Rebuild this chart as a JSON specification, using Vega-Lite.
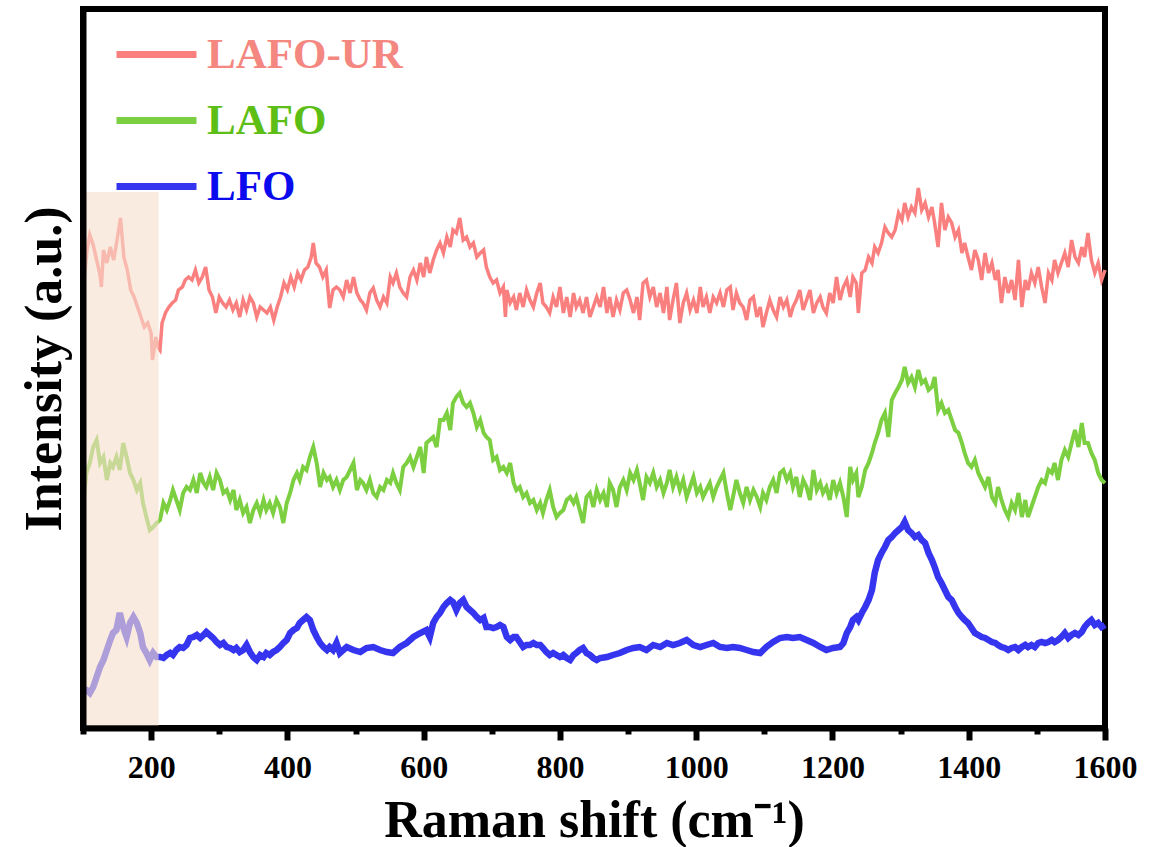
{
  "$schema": "https://vega.github.io/schema/vega-lite/v6.json",
  "width": 1022,
  "height": 719,
  "autosize": "none",
  "padding": {"left": 83, "top": 9, "right": 46, "bottom": 119},
  "background": "white",
  "config": {
    "view": {"stroke": "black", "strokeWidth": 6},
    "font": "Liberation Serif"
  },
  "datasets": {
    "ur": [
      {"x":100,"y":393},{"x":102,"y":451},{"x":106,"y":478},{"x":110,"y":493},{"x":115,"y":483},{"x":120,"y":468},{"x":125,"y":453},{"x":127,"y":441},{"x":130,"y":478},{"x":135,"y":465},{"x":140,"y":481},{"x":145,"y":468},{"x":150,"y":488},{"x":155,"y":510},{"x":160,"y":471},{"x":165,"y":458},{"x":170,"y":438},{"x":175,"y":431},{"x":180,"y":421},{"x":185,"y":411},{"x":190,"y":401},{"x":195,"y":405},{"x":200,"y":395},{"x":202,"y":368},{"x":207,"y":391},{"x":210,"y":381},{"x":213,"y":378},{"x":216,"y":405},{"x":221,"y":415},{"x":226,"y":421},{"x":231,"y":425},{"x":236,"y":428},{"x":240,"y":438},{"x":246,"y":441},{"x":250,"y":448},{"x":255,"y":451},{"x":260,"y":448},{"x":265,"y":458},{"x":270,"y":445},{"x":275,"y":451},{"x":280,"y":461},{"x":285,"y":438},{"x":290,"y":431},{"x":295,"y":415},{"x":300,"y":431},{"x":305,"y":425},{"x":310,"y":421},{"x":315,"y":428},{"x":320,"y":418},{"x":325,"y":425},{"x":330,"y":411},{"x":335,"y":428},{"x":340,"y":418},{"x":345,"y":431},{"x":350,"y":425},{"x":355,"y":411},{"x":360,"y":421},{"x":365,"y":418},{"x":370,"y":415},{"x":375,"y":421},{"x":380,"y":408},{"x":385,"y":421},{"x":390,"y":431},{"x":395,"y":445},{"x":400,"y":438},{"x":405,"y":451},{"x":410,"y":441},{"x":415,"y":455},{"x":420,"y":448},{"x":425,"y":458},{"x":430,"y":461},{"x":435,"y":471},{"x":438,"y":485},{"x":442,"y":465},{"x":447,"y":461},{"x":452,"y":451},{"x":457,"y":458},{"x":462,"y":420},{"x":467,"y":438},{"x":472,"y":441},
      {"x":477,"y":438},{"x":482,"y":431},{"x":487,"y":448},{"x":492,"y":435},{"x":497,"y":451},{"x":502,"y":435},{"x":507,"y":428},{"x":511,"y":425},{"x":516,"y":418},{"x":521,"y":435},{"x":526,"y":440},{"x":531,"y":428},{"x":536,"y":421},{"x":541,"y":431},{"x":546,"y":425},{"x":551,"y":451},{"x":555,"y":445},{"x":560,"y":455},{"x":565,"y":441},{"x":570,"y":435},{"x":575,"y":431},{"x":580,"y":451},{"x":585,"y":458},{"x":590,"y":448},{"x":595,"y":465},{"x":600,"y":451},{"x":604,"y":471},{"x":609,"y":455},{"x":614,"y":468},{"x":619,"y":478},{"x":624,"y":485},{"x":629,"y":475},{"x":634,"y":491},{"x":639,"y":481},{"x":643,"y":498},{"x":648,"y":495},{"x":653,"y":510},{"x":658,"y":488},{"x":663,"y":491},{"x":668,"y":481},{"x":673,"y":485},{"x":678,"y":471},{"x":683,"y":475},{"x":688,"y":478},{"x":692,"y":461},{"x":697,"y":451},{"x":702,"y":445},{"x":707,"y":448},{"x":712,"y":435},{"x":717,"y":441},{"x":720,"y":411},{"x":722,"y":438},{"x":727,"y":425},{"x":732,"y":431},{"x":736,"y":418},{"x":741,"y":435},{"x":746,"y":421},{"x":751,"y":438},{"x":756,"y":428},{"x":761,"y":421},{"x":766,"y":435},{"x":771,"y":445},{"x":775,"y":425},{"x":780,"y":421},{"x":785,"y":415},{"x":790,"y":431},{"x":795,"y":421},{"x":800,"y":441},{"x":805,"y":415},{"x":810,"y":431},{"x":815,"y":411},{"x":820,"y":435},{"x":824,"y":421},{"x":829,"y":428},{"x":834,"y":415},{"x":839,"y":431},{"x":844,"y":411},{"x":849,"y":421},{"x":854,"y":431},
      {"x":859,"y":421},{"x":864,"y":441},{"x":869,"y":415},{"x":873,"y":431},{"x":878,"y":411},{"x":883,"y":428},{"x":888,"y":418},{"x":893,"y":435},{"x":898,"y":438},{"x":903,"y":428},{"x":908,"y":415},{"x":913,"y":431},{"x":917,"y":408},{"x":922,"y":445},{"x":927,"y":448},{"x":932,"y":431},{"x":937,"y":441},{"x":942,"y":421},{"x":947,"y":435},{"x":952,"y":415},{"x":957,"y":441},{"x":961,"y":408},{"x":966,"y":428},{"x":971,"y":445},{"x":976,"y":405},{"x":981,"y":425},{"x":986,"y":435},{"x":991,"y":418},{"x":996,"y":428},{"x":1001,"y":415},{"x":1006,"y":441},{"x":1010,"y":421},{"x":1015,"y":431},{"x":1020,"y":415},{"x":1025,"y":431},{"x":1030,"y":425},{"x":1035,"y":435},{"x":1040,"y":421},{"x":1045,"y":438},{"x":1050,"y":441},{"x":1054,"y":418},{"x":1059,"y":435},{"x":1064,"y":425},{"x":1069,"y":421},{"x":1074,"y":408},{"x":1079,"y":428},{"x":1084,"y":431},{"x":1089,"y":411},{"x":1094,"y":421},{"x":1098,"y":401},{"x":1103,"y":415},{"x":1108,"y":428},{"x":1113,"y":418},{"x":1118,"y":411},{"x":1123,"y":431},{"x":1128,"y":421},{"x":1133,"y":428},{"x":1138,"y":411},{"x":1142,"y":421},{"x":1147,"y":428},{"x":1152,"y":438},{"x":1157,"y":418},{"x":1162,"y":428},{"x":1167,"y":438},{"x":1172,"y":415},{"x":1177,"y":425},{"x":1182,"y":431},{"x":1186,"y":421},{"x":1191,"y":415},{"x":1196,"y":435},{"x":1201,"y":425},{"x":1206,"y":451},{"x":1211,"y":428},{"x":1216,"y":441},{"x":1221,"y":448},{"x":1226,"y":431},{"x":1230,"y":451},{"x":1235,"y":445},
      {"x":1238,"y":415},{"x":1243,"y":455},{"x":1248,"y":458},{"x":1253,"y":471},{"x":1258,"y":465},{"x":1262,"y":481},{"x":1267,"y":475},{"x":1272,"y":485},{"x":1277,"y":501},{"x":1282,"y":495},{"x":1287,"y":491},{"x":1292,"y":498},{"x":1297,"y":515},{"x":1302,"y":508},{"x":1306,"y":525},{"x":1311,"y":511},{"x":1316,"y":521},{"x":1321,"y":515},{"x":1326,"y":540},{"x":1331,"y":518},{"x":1336,"y":525},{"x":1341,"y":511},{"x":1346,"y":521},{"x":1350,"y":505},{"x":1355,"y":481},{"x":1360,"y":525},{"x":1365,"y":498},{"x":1370,"y":511},{"x":1375,"y":505},{"x":1380,"y":491},{"x":1385,"y":498},{"x":1390,"y":475},{"x":1394,"y":485},{"x":1399,"y":471},{"x":1404,"y":458},{"x":1409,"y":478},{"x":1414,"y":468},{"x":1419,"y":448},{"x":1424,"y":475},{"x":1429,"y":455},{"x":1434,"y":465},{"x":1439,"y":448},{"x":1443,"y":458},{"x":1448,"y":425},{"x":1453,"y":451},{"x":1458,"y":435},{"x":1463,"y":448},{"x":1468,"y":428},{"x":1473,"y":468},{"x":1478,"y":421},{"x":1483,"y":448},{"x":1487,"y":438},{"x":1492,"y":455},{"x":1497,"y":445},{"x":1502,"y":461},{"x":1507,"y":441},{"x":1512,"y":425},{"x":1517,"y":455},{"x":1522,"y":448},{"x":1526,"y":468},{"x":1531,"y":455},{"x":1536,"y":465},{"x":1541,"y":475},{"x":1546,"y":461},{"x":1551,"y":488},{"x":1556,"y":471},{"x":1561,"y":465},{"x":1566,"y":481},{"x":1570,"y":471},{"x":1575,"y":495},{"x":1580,"y":468},{"x":1585,"y":455},{"x":1590,"y":465},{"x":1595,"y":448},{"x":1600,"y":458}
    ],
    "lafo": [
      {"x":100,"y":221},{"x":105,"y":255},{"x":110,"y":265},{"x":115,"y":281},{"x":120,"y":288},{"x":125,"y":265},{"x":130,"y":271},{"x":135,"y":248},{"x":140,"y":265},{"x":144,"y":261},{"x":149,"y":271},{"x":154,"y":258},{"x":159,"y":285},{"x":164,"y":271},{"x":169,"y":255},{"x":174,"y":248},{"x":179,"y":238},{"x":184,"y":245},{"x":188,"y":225},{"x":193,"y":211},{"x":198,"y":198},{"x":203,"y":201},{"x":208,"y":205},{"x":213,"y":208},{"x":218,"y":225},{"x":223,"y":218},{"x":228,"y":228},{"x":232,"y":238},{"x":237,"y":228},{"x":242,"y":218},{"x":247,"y":235},{"x":252,"y":241},{"x":257,"y":238},{"x":262,"y":248},{"x":267,"y":235},{"x":272,"y":255},{"x":277,"y":245},{"x":281,"y":241},{"x":286,"y":251},{"x":291,"y":238},{"x":296,"y":255},{"x":301,"y":248},{"x":306,"y":235},{"x":311,"y":238},{"x":316,"y":228},{"x":321,"y":238},{"x":325,"y":218},{"x":330,"y":228},{"x":335,"y":215},{"x":340,"y":221},{"x":345,"y":205},{"x":350,"y":218},{"x":355,"y":225},{"x":360,"y":215},{"x":365,"y":228},{"x":369,"y":218},{"x":374,"y":225},{"x":379,"y":215},{"x":384,"y":228},{"x":389,"y":221},{"x":394,"y":205},{"x":399,"y":225},{"x":404,"y":235},{"x":409,"y":248},{"x":414,"y":255},{"x":418,"y":248},{"x":423,"y":261},{"x":428,"y":258},{"x":433,"y":271},{"x":438,"y":281},{"x":443,"y":265},{"x":448,"y":241},{"x":453,"y":255},{"x":458,"y":248},{"x":462,"y":251},{"x":467,"y":241},{"x":472,"y":248},
      {"x":477,"y":238},{"x":482,"y":248},{"x":487,"y":251},{"x":492,"y":258},{"x":497,"y":265},{"x":502,"y":238},{"x":507,"y":248},{"x":511,"y":245},{"x":516,"y":238},{"x":521,"y":248},{"x":526,"y":235},{"x":531,"y":231},{"x":536,"y":241},{"x":541,"y":238},{"x":546,"y":248},{"x":551,"y":245},{"x":555,"y":255},{"x":560,"y":245},{"x":565,"y":238},{"x":570,"y":261},{"x":575,"y":265},{"x":580,"y":271},{"x":585,"y":261},{"x":590,"y":271},{"x":595,"y":281},{"x":600,"y":255},{"x":604,"y":285},{"x":609,"y":288},{"x":614,"y":291},{"x":619,"y":281},{"x":624,"y":308},{"x":629,"y":308},{"x":634,"y":315},{"x":639,"y":298},{"x":643,"y":325},{"x":648,"y":331},{"x":653,"y":335},{"x":658,"y":325},{"x":663,"y":321},{"x":668,"y":325},{"x":673,"y":315},{"x":678,"y":301},{"x":683,"y":308},{"x":688,"y":295},{"x":692,"y":291},{"x":697,"y":288},{"x":702,"y":268},{"x":707,"y":271},{"x":712,"y":258},{"x":717,"y":261},{"x":722,"y":255},{"x":727,"y":265},{"x":732,"y":245},{"x":736,"y":238},{"x":741,"y":241},{"x":746,"y":231},{"x":751,"y":235},{"x":756,"y":225},{"x":761,"y":228},{"x":766,"y":218},{"x":771,"y":225},{"x":775,"y":215},{"x":780,"y":228},{"x":785,"y":238},{"x":790,"y":221},{"x":795,"y":211},{"x":800,"y":215},{"x":805,"y":218},{"x":810,"y":228},{"x":815,"y":231},{"x":820,"y":225},{"x":824,"y":231},{"x":829,"y":218},{"x":834,"y":205},{"x":839,"y":231},{"x":844,"y":235},{"x":849,"y":221},{"x":854,"y":238},
      {"x":859,"y":228},{"x":864,"y":235},{"x":869,"y":221},{"x":873,"y":245},{"x":878,"y":238},{"x":883,"y":221},{"x":888,"y":241},{"x":893,"y":248},{"x":898,"y":238},{"x":903,"y":255},{"x":908,"y":248},{"x":913,"y":258},{"x":917,"y":245},{"x":922,"y":228},{"x":927,"y":251},{"x":932,"y":245},{"x":937,"y":255},{"x":942,"y":241},{"x":947,"y":248},{"x":952,"y":235},{"x":957,"y":245},{"x":961,"y":258},{"x":966,"y":241},{"x":971,"y":251},{"x":976,"y":238},{"x":981,"y":248},{"x":986,"y":231},{"x":991,"y":241},{"x":996,"y":251},{"x":1001,"y":235},{"x":1006,"y":241},{"x":1010,"y":231},{"x":1015,"y":238},{"x":1020,"y":245},{"x":1025,"y":231},{"x":1030,"y":241},{"x":1035,"y":248},{"x":1040,"y":255},{"x":1045,"y":235},{"x":1050,"y":218},{"x":1054,"y":231},{"x":1059,"y":248},{"x":1064,"y":235},{"x":1069,"y":225},{"x":1074,"y":241},{"x":1079,"y":228},{"x":1084,"y":238},{"x":1089,"y":231},{"x":1094,"y":221},{"x":1098,"y":235},{"x":1103,"y":228},{"x":1108,"y":241},{"x":1113,"y":248},{"x":1118,"y":235},{"x":1123,"y":255},{"x":1128,"y":258},{"x":1133,"y":248},{"x":1138,"y":255},{"x":1142,"y":241},{"x":1147,"y":251},{"x":1152,"y":231},{"x":1157,"y":248},{"x":1162,"y":241},{"x":1167,"y":228},{"x":1172,"y":258},{"x":1177,"y":238},{"x":1182,"y":245},{"x":1186,"y":235},{"x":1191,"y":241},{"x":1196,"y":228},{"x":1201,"y":248},{"x":1206,"y":235},{"x":1211,"y":245},{"x":1216,"y":231},{"x":1221,"y":211},{"x":1226,"y":261},{"x":1230,"y":248},{"x":1235,"y":255},
      {"x":1238,"y":231},{"x":1243,"y":241},{"x":1248,"y":258},{"x":1253,"y":265},{"x":1258,"y":275},{"x":1262,"y":285},{"x":1267,"y":295},{"x":1272,"y":308},{"x":1277,"y":315},{"x":1282,"y":291},{"x":1287,"y":328},{"x":1292,"y":335},{"x":1297,"y":341},{"x":1302,"y":348},{"x":1306,"y":361},{"x":1311,"y":345},{"x":1316,"y":351},{"x":1321,"y":341},{"x":1326,"y":358},{"x":1331,"y":345},{"x":1336,"y":348},{"x":1341,"y":338},{"x":1346,"y":341},{"x":1350,"y":351},{"x":1355,"y":318},{"x":1360,"y":325},{"x":1365,"y":315},{"x":1370,"y":318},{"x":1375,"y":308},{"x":1380,"y":298},{"x":1385,"y":295},{"x":1390,"y":285},{"x":1394,"y":275},{"x":1399,"y":265},{"x":1404,"y":261},{"x":1409,"y":268},{"x":1414,"y":255},{"x":1419,"y":248},{"x":1424,"y":241},{"x":1429,"y":251},{"x":1434,"y":231},{"x":1439,"y":225},{"x":1443,"y":241},{"x":1448,"y":228},{"x":1453,"y":218},{"x":1458,"y":211},{"x":1463,"y":225},{"x":1468,"y":218},{"x":1473,"y":235},{"x":1478,"y":211},{"x":1483,"y":228},{"x":1487,"y":211},{"x":1492,"y":221},{"x":1497,"y":231},{"x":1502,"y":241},{"x":1507,"y":248},{"x":1512,"y":245},{"x":1517,"y":258},{"x":1522,"y":255},{"x":1526,"y":265},{"x":1531,"y":248},{"x":1536,"y":268},{"x":1541,"y":278},{"x":1546,"y":271},{"x":1551,"y":285},{"x":1556,"y":298},{"x":1561,"y":281},{"x":1566,"y":305},{"x":1570,"y":285},{"x":1575,"y":285},{"x":1580,"y":275},{"x":1585,"y":268},{"x":1590,"y":255},{"x":1595,"y":248},{"x":1600,"y":245}
    ],
    "lfo": [
      {"x":100,"y":38},{"x":105,"y":38},{"x":110,"y":35},{"x":115,"y":41},{"x":120,"y":51},{"x":125,"y":61},{"x":130,"y":68},{"x":135,"y":78},{"x":140,"y":88},{"x":144,"y":95},{"x":149,"y":98},{"x":154,"y":115},{"x":159,"y":101},{"x":164,"y":91},{"x":169,"y":105},{"x":174,"y":111},{"x":179,"y":105},{"x":184,"y":95},{"x":188,"y":81},{"x":193,"y":75},{"x":198,"y":68},{"x":203,"y":75},{"x":208,"y":71},{"x":213,"y":71},{"x":218,"y":70},{"x":223,"y":73},{"x":228,"y":75},{"x":232,"y":73},{"x":237,"y":78},{"x":242,"y":81},{"x":247,"y":80},{"x":252,"y":83},{"x":257,"y":90},{"x":262,"y":91},{"x":267,"y":93},{"x":272,"y":90},{"x":277,"y":93},{"x":281,"y":96},{"x":286,"y":93},{"x":291,"y":90},{"x":296,"y":86},{"x":301,"y":83},{"x":306,"y":85},{"x":311,"y":81},{"x":316,"y":80},{"x":321,"y":78},{"x":325,"y":80},{"x":330,"y":76},{"x":335,"y":78},{"x":340,"y":83},{"x":345,"y":76},{"x":350,"y":71},{"x":355,"y":68},{"x":360,"y":73},{"x":365,"y":71},{"x":369,"y":75},{"x":374,"y":73},{"x":379,"y":76},{"x":384,"y":78},{"x":389,"y":81},{"x":394,"y":85},{"x":399,"y":88},{"x":404,"y":95},{"x":409,"y":98},{"x":414,"y":100},{"x":418,"y":105},{"x":423,"y":108},{"x":428,"y":111},{"x":433,"y":108},{"x":438,"y":98},{"x":443,"y":91},{"x":448,"y":85},{"x":453,"y":81},{"x":458,"y":78},{"x":462,"y":81},{"x":467,"y":78},{"x":472,"y":85},
      {"x":477,"y":75},{"x":487,"y":81},{"x":497,"y":78},{"x":507,"y":76},{"x":516,"y":80},{"x":526,"y":81},{"x":536,"y":78},{"x":546,"y":76},{"x":555,"y":75},{"x":565,"y":81},{"x":575,"y":85},{"x":585,"y":91},{"x":595,"y":95},{"x":604,"y":98},{"x":609,"y":91},{"x":614,"y":105},{"x":619,"y":111},{"x":624,"y":115},{"x":629,"y":121},{"x":634,"y":125},{"x":639,"y":128},{"x":643,"y":126},{"x":648,"y":118},{"x":653,"y":125},{"x":658,"y":128},{"x":663,"y":121},{"x":668,"y":118},{"x":673,"y":115},{"x":678,"y":111},{"x":683,"y":108},{"x":688,"y":110},{"x":692,"y":101},{"x":697,"y":101},{"x":702,"y":100},{"x":707,"y":101},{"x":712,"y":103},{"x":717,"y":101},{"x":722,"y":91},{"x":727,"y":88},{"x":732,"y":91},{"x":736,"y":91},{"x":741,"y":86},{"x":746,"y":81},{"x":751,"y":83},{"x":756,"y":83},{"x":761,"y":85},{"x":766,"y":83},{"x":771,"y":83},{"x":775,"y":80},{"x":780,"y":76},{"x":785,"y":73},{"x":790,"y":75},{"x":795,"y":73},{"x":800,"y":71},{"x":805,"y":73},{"x":810,"y":70},{"x":815,"y":68},{"x":820,"y":73},{"x":824,"y":75},{"x":829,"y":78},{"x":834,"y":80},{"x":839,"y":75},{"x":844,"y":73},{"x":849,"y":70},{"x":854,"y":68},
      {"x":859,"y":70},{"x":869,"y":71},{"x":878,"y":73},{"x":888,"y":75},{"x":898,"y":78},{"x":908,"y":80},{"x":917,"y":81},{"x":927,"y":78},{"x":937,"y":83},{"x":947,"y":81},{"x":957,"y":85},{"x":966,"y":83},{"x":976,"y":85},{"x":986,"y":88},{"x":996,"y":83},{"x":1006,"y":81},{"x":1015,"y":83},{"x":1025,"y":85},{"x":1035,"y":81},{"x":1045,"y":80},{"x":1054,"y":81},{"x":1064,"y":80},{"x":1074,"y":78},{"x":1084,"y":76},{"x":1094,"y":75},{"x":1103,"y":81},{"x":1113,"y":86},{"x":1123,"y":90},{"x":1133,"y":91},{"x":1142,"y":90},{"x":1152,"y":91},{"x":1162,"y":88},{"x":1172,"y":85},{"x":1182,"y":81},{"x":1191,"y":78},{"x":1201,"y":80},{"x":1211,"y":81},{"x":1216,"y":85},{"x":1221,"y":95},{"x":1226,"y":101},{"x":1230,"y":108},{"x":1235,"y":111},
      {"x":1238,"y":108},{"x":1243,"y":115},{"x":1248,"y":121},{"x":1253,"y":128},{"x":1258,"y":138},{"x":1262,"y":155},{"x":1267,"y":168},{"x":1272,"y":175},{"x":1277,"y":181},{"x":1282,"y":188},{"x":1287,"y":191},{"x":1292,"y":195},{"x":1297,"y":198},{"x":1302,"y":201},{"x":1306,"y":206},{"x":1311,"y":198},{"x":1316,"y":195},{"x":1321,"y":191},{"x":1326,"y":193},{"x":1331,"y":188},{"x":1336,"y":185},{"x":1341,"y":175},{"x":1346,"y":168},{"x":1350,"y":161},{"x":1355,"y":151},{"x":1360,"y":145},{"x":1365,"y":138},{"x":1370,"y":131},{"x":1375,"y":128},{"x":1380,"y":121},{"x":1385,"y":115},{"x":1390,"y":111},{"x":1394,"y":108},{"x":1399,"y":105},{"x":1404,"y":100},{"x":1409,"y":95},{"x":1414,"y":93},{"x":1419,"y":91},{"x":1424,"y":90},{"x":1429,"y":88},{"x":1434,"y":86},{"x":1439,"y":85},{"x":1443,"y":83},{"x":1448,"y":81},{"x":1453,"y":80},{"x":1458,"y":78},{"x":1463,"y":80},{"x":1468,"y":81},{"x":1473,"y":78},{"x":1478,"y":81},{"x":1483,"y":83},{"x":1487,"y":81},{"x":1492,"y":83},{"x":1497,"y":81},{"x":1502,"y":85},{"x":1507,"y":86},{"x":1512,"y":85},{"x":1517,"y":86},{"x":1522,"y":88},{"x":1526,"y":86},{"x":1531,"y":88},{"x":1536,"y":91},{"x":1541,"y":95},{"x":1546,"y":90},{"x":1551,"y":93},{"x":1556,"y":95},{"x":1561,"y":93},{"x":1566,"y":96},{"x":1570,"y":101},{"x":1575,"y":105},{"x":1580,"y":108},{"x":1585,"y":103},{"x":1590,"y":105},{"x":1595,"y":101},{"x":1600,"y":103}
    ],
    "band": [{"x":100,"x2":211,"y":0,"y2":536}]
  },
  "encoding": {
    "x": {
      "field": "x",
      "type": "quantitative",
      "scale": {"domain": [100, 1600], "nice": false, "zero": false},
      "axis": {
        "title": "Raman shift (cm⁻¹)",
        "values": [100,200,300,400,500,600,700,800,900,1000,1100,1200,1300,1400,1500,1600],
        "format": "d",
        "labelExpr": "datum.value % 200 === 0 ? datum.label : ''",
        "grid": false,
        "domain": true, "domainColor": "black", "domainWidth": 6,
        "ticks": true, "tickColor": "black", "tickWidth": 6,
        "tickSize": {"condition": {"test": "datum.value % 200 !== 0", "value": 6}, "value": 12},
        "labelFont": "Liberation Serif", "labelFontWeight": "bold", "labelFontSize": 32, "labelColor": "black",
        "labelPadding": 12, "labelOverlap": false, "labelFlush": false, "labelBound": false,
        "titleFont": "Liberation Serif", "titleFontWeight": "bold", "titleFontSize": 52, "titleColor": "black",
        "titlePadding": 12,
        "zindex": 1
      }
    },
    "y": {
      "field": "y",
      "type": "quantitative",
      "scale": {"domain": [0, 719], "nice": false, "zero": false},
      "axis": {
        "title": "Intensity (a.u.)",
        "grid": false, "ticks": false, "labels": false,
        "domain": true, "domainColor": "black", "domainWidth": 6,
        "titleFont": "Liberation Serif", "titleFontWeight": "bold", "titleFontSize": 52, "titleColor": "black",
        "titlePadding": 12,
        "zindex": 1
      }
    }
  },
  "layer": [
    {
      "data": {"name": "ur"},
      "mark": {"type": "line", "strokeWidth": 3.5},
      "encoding": {
        "color": {
          "datum": "LAFO-UR",
          "type": "nominal",
          "scale": {"domain": ["LAFO-UR", "LAFO", "LFO"], "range": ["#FA7F7F", "#7CCF40", "#3535F0"]},
          "legend": {
            "title": null,
            "orient": "none",
            "legendX": 30,
            "legendY": 2,
            "padding": 0,
            "symbolType": "stroke",
            "symbolSize": 6400,
            "symbolStrokeWidth": 7,
            "labelFont": "Liberation Serif",
            "labelFontWeight": "bold",
            "labelFontSize": 43,
            "labelOffset": 7,
            "labelLimit": 0,
            "rowPadding": 0,
            "labelColor": {"expr": "datum.label === 'LAFO-UR' ? '#F4877F' : datum.label === 'LAFO' ? '#5DBE16' : '#0A0AEE'"}
          }
        }
      }
    },
    {
      "data": {"name": "lafo"},
      "mark": {"type": "line", "strokeWidth": 4},
      "encoding": {"color": {"datum": "LAFO", "type": "nominal"}}
    },
    {
      "data": {"name": "lfo"},
      "mark": {"type": "line", "strokeWidth": 6.5},
      "encoding": {"color": {"datum": "LFO", "type": "nominal"}}
    },
    {
      "data": {"name": "band"},
      "mark": {"type": "rect", "color": "#F7DFCD", "opacity": 0.62},
      "encoding": {"x2": {"field": "x2"}, "y2": {"field": "y2"}}
    }
  ]
}
